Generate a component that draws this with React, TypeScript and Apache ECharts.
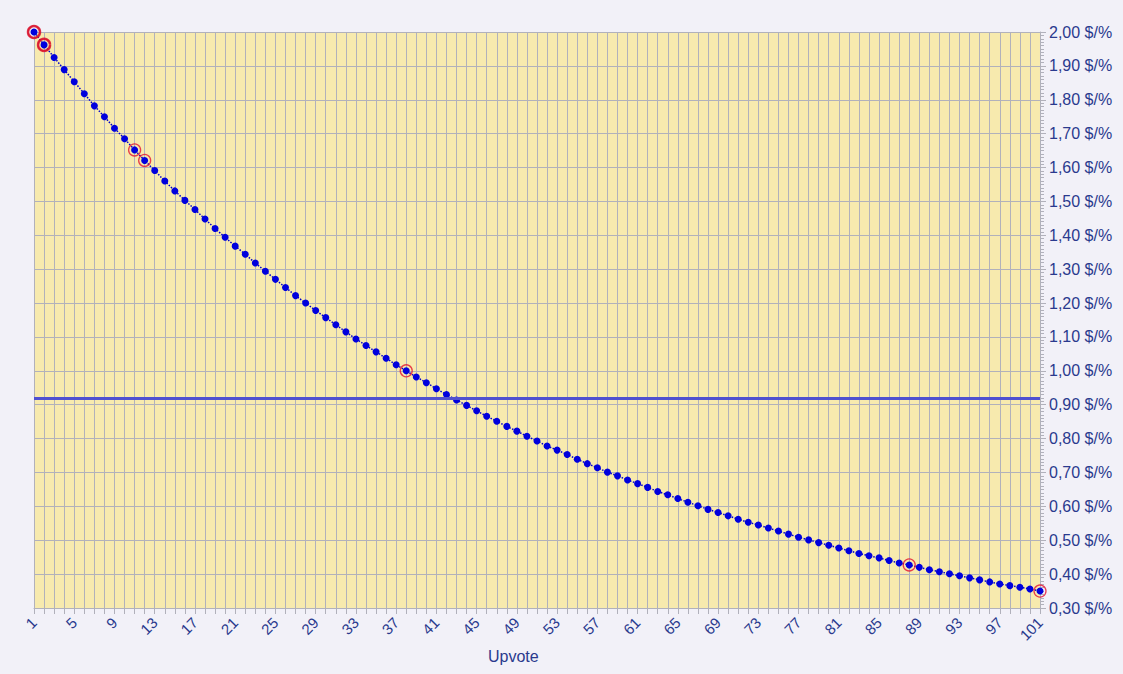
import React, { useEffect, useRef } from 'react';
import * as echarts from 'echarts';

// upvote number 1..101
const upvotes = [
  1, 2, 3, 4, 5, 6, 7, 8, 9, 10, 11, 12, 13, 14, 15, 16, 17, 18, 19, 20,
  21, 22, 23, 24, 25, 26, 27, 28, 29, 30, 31, 32, 33, 34, 35, 36, 37, 38, 39, 40,
  41, 42, 43, 44, 45, 46, 47, 48, 49, 50, 51, 52, 53, 54, 55, 56, 57, 58, 59, 60,
  61, 62, 63, 64, 65, 66, 67, 68, 69, 70, 71, 72, 73, 74, 75, 76, 77, 78, 79, 80,
  81, 82, 83, 84, 85, 86, 87, 88, 89, 90, 91, 92, 93, 94, 95, 96, 97, 98, 99, 100, 101,
];

// $ per % for each upvote
const values = [
  2.0, 1.962, 1.925, 1.889, 1.853, 1.818, 1.782, 1.75, 1.716, 1.685,
  1.652, 1.621, 1.591, 1.56, 1.531, 1.503, 1.476, 1.448, 1.42, 1.394,
  1.368, 1.344, 1.318, 1.294, 1.27, 1.246, 1.222, 1.2, 1.178, 1.157,
  1.136, 1.115, 1.094, 1.075, 1.056, 1.037, 1.018, 1.0, 0.982, 0.965,
  0.947, 0.93, 0.914, 0.898, 0.882, 0.866, 0.851, 0.836, 0.822, 0.807,
  0.793, 0.778, 0.766, 0.753, 0.739, 0.726, 0.714, 0.701, 0.69, 0.678,
  0.667, 0.656, 0.644, 0.634, 0.623, 0.612, 0.602, 0.591, 0.582, 0.572,
  0.562, 0.553, 0.545, 0.536, 0.527, 0.518, 0.509, 0.501, 0.493, 0.485,
  0.477, 0.469, 0.461, 0.454, 0.448, 0.44, 0.433, 0.427, 0.42, 0.413,
  0.407, 0.401, 0.395, 0.389, 0.383, 0.377, 0.371, 0.366, 0.361, 0.356, 0.35,
];

// upvotes marked with a red ring
const marked = [1, 2, 11, 12, 38, 88, 101];
const thickMarked = [1, 2];

const refLine = 0.92;

const labelColor = '#2a3a8e';
const gridColor = '#b1b1bb';

export default function App() {
  const chartRef = useRef<HTMLDivElement>(null);

  useEffect(() => {
    document.body.style.margin = '0';
    const chart = echarts.init(chartRef.current!, undefined, { renderer: 'svg' });
    const cats = upvotes.map(String);

    chart.setOption({
      animation: false,
      backgroundColor: '#f2f1f8',
      textStyle: { fontFamily: 'Liberation Sans' },
      grid: {
        left: 34,
        right: 83,
        top: 32,
        bottom: 66,
        show: true,
        backgroundColor: '#f7eaae',
        borderWidth: 0,
      },
      graphic: [
        {
          type: 'text',
          left: 488,
          top: 648,
          style: { text: 'Upvote', fill: labelColor, fontSize: 16, fontFamily: 'Liberation Sans' },
        },
      ],
      xAxis: {
        type: 'category',
        data: cats,
        boundaryGap: false,
        axisLine: { lineStyle: { color: gridColor } },
        axisTick: { interval: 0, length: 6, lineStyle: { color: gridColor } },
        axisLabel: { interval: 3, rotate: 45, color: labelColor, fontSize: 15, margin: 12 },
        splitLine: { show: true, interval: 0, lineStyle: { color: gridColor, width: 1 } },
      },
      yAxis: {
        type: 'value',
        position: 'right',
        min: 0.3,
        max: 2.0,
        interval: 0.1,
        axisLine: { show: true, lineStyle: { color: gridColor } },
        axisTick: { show: true, length: 6, lineStyle: { color: gridColor } },
        minorTick: { show: true, splitNumber: 10, length: 4, lineStyle: { color: gridColor } },
        axisLabel: {
          color: labelColor,
          fontSize: 16,
          margin: 9,
          formatter: (v: number) => v.toFixed(2).replace('.', ',') + ' $/%',
        },
        splitLine: { show: true, lineStyle: { color: gridColor, width: 1 } },
      },
      series: [
        {
          type: 'line',
          data: values,
          symbol: 'circle',
          symbolSize: 7,
          showAllSymbol: true,
          itemStyle: { color: '#0000dd' },
          lineStyle: { color: '#0000cc', width: 1.5, type: 'dotted' },
          markLine: {
            silent: true,
            symbol: 'none',
            label: { show: false },
            lineStyle: { color: '#5050d0', width: 3, type: 'solid' },
            data: [{ yAxis: refLine }],
          },
          z: 3,
        },
        {
          type: 'scatter',
          data: marked.map((u) => [String(u), values[u - 1]]),
          symbol: 'circle',
          symbolSize: 12,
          itemStyle: { color: 'rgba(0,0,0,0)', borderColor: '#e3132f', borderWidth: 1.3 },
          z: 4,
        },
        {
          type: 'scatter',
          data: thickMarked.map((u) => [String(u), values[u - 1]]),
          symbol: 'circle',
          symbolSize: 12,
          itemStyle: { color: 'rgba(0,0,0,0)', borderColor: '#d8102a', borderWidth: 2.5 },
          z: 4,
        },
      ],
    });

    return () => {
      chart.dispose();
    };
  }, []);

  return <div ref={chartRef} style={{ width: 1123, height: 674 }} />;
}
